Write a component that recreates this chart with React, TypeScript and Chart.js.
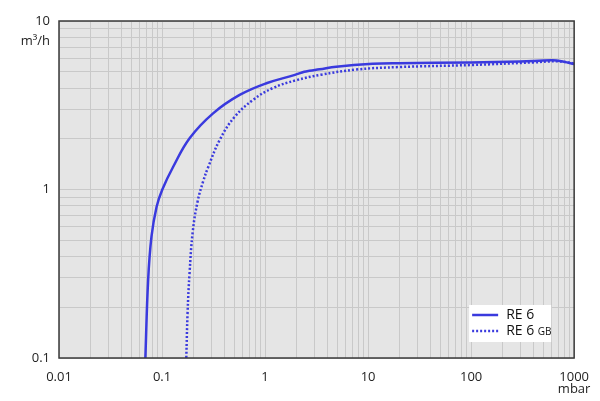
import React, { useEffect, useRef } from "react";
import { Chart, registerables } from "chart.js";

Chart.register(...registerables);

// Pumping speed curves (x: pressure in mbar, y: pumping speed in m³/h)
const re6X = [0.0689, 0.0733, 0.079, 0.0886, 0.1007, 0.128, 0.186, 0.313, 0.567, 1.03, 1.95, 2.4, 2.7, 3.38, 4.91, 11.1, 20, 100, 300, 620, 800, 1000];
const re6Y = [0.1, 0.29, 0.525, 0.79, 1.0, 1.36, 2.02, 2.83, 3.64, 4.27, 4.79, 5.0, 5.07, 5.17, 5.36, 5.57, 5.62, 5.68, 5.75, 5.84, 5.72, 5.55];
const re6gbX = [0.172, 0.177, 0.185, 0.199, 0.222, 0.251, 0.281, 0.363, 0.507, 0.763, 1.19, 2.0, 3.5, 7.66, 20, 100, 400, 700, 1000];
const re6gbY = [0.1, 0.185, 0.319, 0.567, 0.855, 1.12, 1.36, 1.97, 2.7, 3.4, 4.0, 4.45, 4.8, 5.15, 5.33, 5.48, 5.68, 5.76, 5.6];

const xTickValues = [0.01, 0.1, 1, 10, 100, 1000];
const xTickLabels = ["0.01", "0.1", "1", "10", "100", "1000"];
const yTickValues = [0.1, 1, 10];
const yTickLabels = ["0.1", "1", "10"];

const seriesNames = ["RE 6", "RE 6"];
const seriesSuffix = ["", "GB"];
const xUnit = "mbar";
const yUnit = "m³/h";

const LINE_COLOR = "#3a3ade";
const FONT = "'Open Sans', 'Noto Sans', sans-serif";

function logGridTicks(min: number, max: number) {
  const out: { value: number }[] = [];
  const e0 = Math.floor(Math.log10(min) + 1e-9);
  const e1 = Math.ceil(Math.log10(max) - 1e-9);
  for (let e = e0; e <= e1; e++) {
    for (let s = 1; s < 10; s++) {
      const v = s * Math.pow(10, e);
      if (v >= min * 0.9999 && v <= max * 1.0001) out.push({ value: v });
    }
  }
  return out;
}

function labelFor(values: number[], labels: string[], v: number) {
  for (let i = 0; i < values.length; i++) {
    if (Math.abs(v - values[i]) / values[i] < 1e-6) return labels[i];
  }
  return "";
}

const decoPlugin = {
  id: "deco",
  beforeDraw(chart: any) {
    const { ctx, chartArea: a } = chart;
    ctx.save();
    ctx.fillStyle = "#e5e5e5";
    ctx.fillRect(a.left, a.top, a.right - a.left, a.bottom - a.top);
    ctx.restore();
  },
  afterDraw(chart: any) {
    const { ctx, chartArea: a } = chart;
    ctx.save();
    // border
    ctx.strokeStyle = "#3a3a3a";
    ctx.lineWidth = 1.5;
    ctx.strokeRect(a.left, a.top, a.right - a.left, a.bottom - a.top);

    // units
    ctx.fillStyle = "#222";
    ctx.font = `13px ${FONT}`;
    ctx.textBaseline = "middle";
    ctx.textAlign = "right";
    ctx.fillText(yUnit, a.left - 9, a.top + 20);
    ctx.textAlign = "center";
    ctx.fillText(xUnit, a.right, a.bottom + 31);

    // legend
    const bx = a.right - 105;
    const by = a.bottom - 53;
    const bw = 82;
    const bh = 37;
    ctx.fillStyle = "#ffffff";
    ctx.fillRect(bx, by, bw, bh);
    chart.data.datasets.forEach((ds: any, i: number) => {
      const cy = by + 10 + i * 16;
      ctx.save();
      ctx.strokeStyle = ds.borderColor;
      ctx.lineWidth = ds.borderWidth;
      ctx.setLineDash(ds.borderDash || []);
      ctx.beginPath();
      ctx.moveTo(bx + 3, cy);
      ctx.lineTo(bx + 29, cy);
      ctx.stroke();
      ctx.restore();
      ctx.fillStyle = "#111";
      ctx.textAlign = "left";
      ctx.textBaseline = "middle";
      ctx.font = `14px ${FONT}`;
      const name = seriesNames[i];
      ctx.fillText(name, bx + 37, cy);
      if (seriesSuffix[i]) {
        const w = ctx.measureText(name + " ").width;
        ctx.font = `10px ${FONT}`;
        ctx.fillText(seriesSuffix[i], bx + 37 + w, cy + 1);
      }
    });
    ctx.restore();
  },
};

export default function App() {
  const ref = useRef<HTMLCanvasElement | null>(null);

  useEffect(() => {
    document.body.style.margin = "0";
    const canvas = ref.current;
    if (!canvas) return;
    const chart = new Chart(canvas, {
      type: "line",
      data: {
        datasets: [
          {
            label: seriesNames[0],
            data: re6X.map((x, i) => ({ x, y: re6Y[i] })),
            borderColor: LINE_COLOR,
            borderWidth: 2.5,
            pointRadius: 0,
            tension: 0.4,
            fill: false,
          },
          {
            label: seriesNames[1] + " " + seriesSuffix[1],
            data: re6gbX.map((x, i) => ({ x, y: re6gbY[i] })),
            borderColor: LINE_COLOR,
            borderWidth: 2.5,
            borderDash: [2, 2],
            pointRadius: 0,
            tension: 0.4,
            fill: false,
          },
        ],
      },
      options: {
        animation: false,
        responsive: false,
        devicePixelRatio: 1,
        layout: { padding: { top: 21, right: 25, left: 0, bottom: 0 } },
        plugins: { legend: { display: false }, tooltip: { enabled: false } },
        scales: {
          x: {
            type: "logarithmic",
            min: 0.01,
            max: 1000,
            afterBuildTicks: (scale: any) => {
              scale.ticks = logGridTicks(scale.min, scale.max);
            },
            afterFit: (scale: any) => {
              scale.height = 43;
            },
            grid: { color: "#c9c9c9", lineWidth: 1, drawTicks: false },
            border: { display: false },
            ticks: {
              autoSkip: false,
              maxRotation: 0,
              padding: 11,
              color: "#222",
              font: { family: FONT, size: 13 },
              callback: (v: any) => labelFor(xTickValues, xTickLabels, Number(v)),
            },
          },
          y: {
            type: "logarithmic",
            min: 0.1,
            max: 10,
            afterBuildTicks: (scale: any) => {
              scale.ticks = logGridTicks(scale.min, scale.max);
            },
            afterFit: (scale: any) => {
              scale.width = 59;
            },
            grid: { color: "#c9c9c9", lineWidth: 1, drawTicks: false },
            border: { display: false },
            ticks: {
              autoSkip: false,
              padding: 9,
              color: "#222",
              font: { family: FONT, size: 13 },
              callback: (v: any) => labelFor(yTickValues, yTickLabels, Number(v)),
            },
          },
        },
      },
      plugins: [decoPlugin],
    } as any);
    return () => chart.destroy();
  }, []);

  return (
    <div style={{ position: "absolute", left: 0, top: 0, width: 600, height: 401 }}>
      <canvas ref={ref} width={600} height={401} />
    </div>
  );
}
